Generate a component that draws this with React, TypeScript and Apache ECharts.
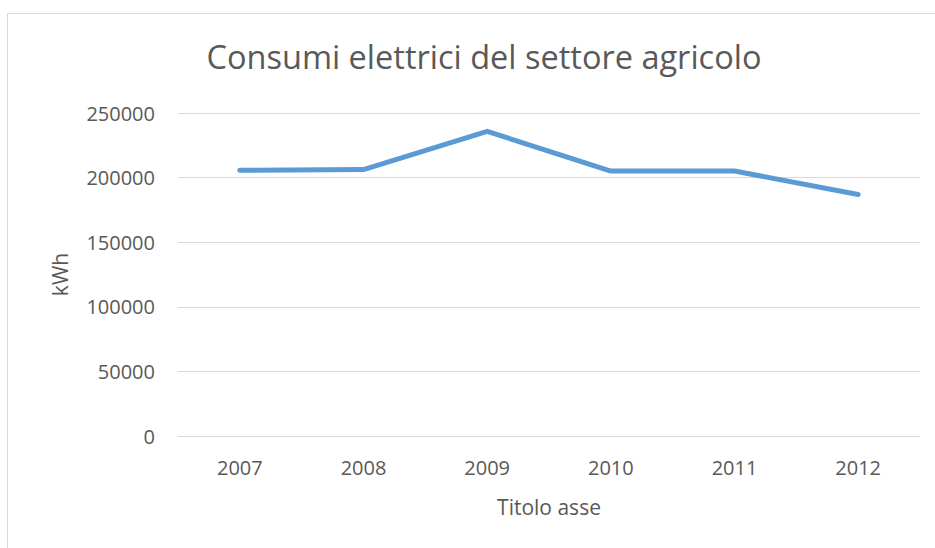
import React, { useEffect, useRef } from "react";
import * as echarts from "echarts";

const years = ["2007", "2008", "2009", "2010", "2011", "2012"];
const consumption = [205600, 206200, 235800, 205100, 205100, 186900];
const yTicks = [0, 50000, 100000, 150000, 200000, 250000];

const TEXT = "#595959";
const GRID = "#d9d9d9";
const FONT = "'Open Sans', sans-serif";

export default function App() {
  const ref = useRef<HTMLDivElement>(null);
  useEffect(() => {
    if (!ref.current) return;
    const chart = echarts.init(ref.current, null, { renderer: "svg" });
    chart.setOption({
      animation: false,
      backgroundColor: "#ffffff",
      title: {
        text: "Consumi elettrici del settore agricolo",
        left: 479,
        top: 35,
        textAlign: "center",
        textStyle: { color: TEXT, fontSize: 32.5, fontWeight: "normal", fontFamily: FONT },
      },
      graphic: [
        {
          type: "rect",
          shape: { x: 7.5, y: 13.5, width: 1000, height: 600 },
          style: { fill: "none", stroke: GRID, lineWidth: 1 },
          silent: true,
        },
      ],
      grid: { left: 178, right: 15, top: 113, bottom: 112, containLabel: false },
      xAxis: {
        type: "category",
        data: years,
        boundaryGap: true,
        axisLine: { show: true, lineStyle: { color: GRID, width: 1 } },
        axisTick: { show: false },
        axisLabel: { color: TEXT, fontSize: 20, fontFamily: FONT, margin: 21 },
        name: "Titolo asse",
        nameLocation: "middle",
        nameGap: 60,
        nameTextStyle: { color: TEXT, fontSize: 21, fontFamily: FONT },
      },
      yAxis: {
        type: "value",
        min: yTicks[0],
        max: yTicks[yTicks.length - 1],
        interval: yTicks[1] - yTicks[0],
        axisLine: { show: false },
        axisTick: { show: false },
        splitLine: { lineStyle: { color: GRID, width: 1 } },
        axisLabel: {
          color: TEXT,
          fontSize: 20,
          fontFamily: FONT,
          margin: 23,
          formatter: (v: number) => String(v),
        },
        name: "kWh",
        nameLocation: "middle",
        nameGap: 108,
        nameRotate: 90,
        nameTextStyle: { color: TEXT, fontSize: 21, fontFamily: FONT },
      },
      series: [
        {
          type: "line",
          data: consumption,
          showSymbol: false,
          symbol: "none",
          lineStyle: { color: "#5b9bd5", width: 5, cap: "round", join: "round" },
        },
      ],
    });
    return () => chart.dispose();
  }, []);
  return (
    <div
      ref={ref}
      style={{ position: "fixed", left: 0, top: 0, width: 935, height: 548, background: "#fff" }}
    />
  );
}
